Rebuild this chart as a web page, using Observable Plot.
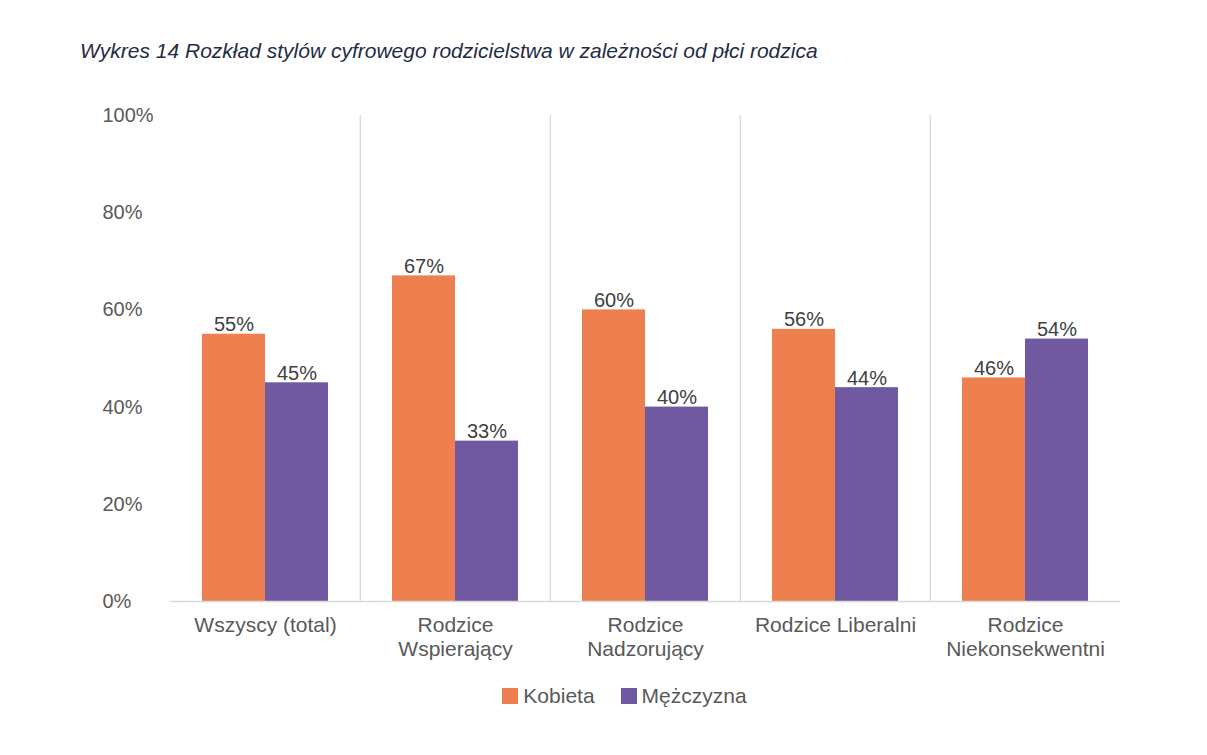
<!DOCTYPE html>
<html>
<head>
<meta charset="utf-8">
<script src="https://cdn.jsdelivr.net/npm/d3@7"></script>
<script src="https://cdn.jsdelivr.net/npm/@observablehq/plot@0.6"></script>
<style>
  html, body { margin: 0; padding: 0; background: #fff; }
  #wrap { position: relative; width: 1207px; height: 755px; font-family: "Liberation Sans", Arial, sans-serif; }
  #title { position: absolute; left: 80px; top: 39px; font-size: 21px; font-style: italic; color: #1f2d47; white-space: nowrap; }
  #chart { position: absolute; left: 0; top: 0; }
  #legend { position: absolute; top: 684px; left: 0; width: 1207px; display: flex; justify-content: center; gap: 26px; font-size: 21px; color: #595959; padding-left: 42px; box-sizing: border-box; }
  .item { display: flex; align-items: center; gap: 5px; }
  .sw { width: 16px; height: 16px; display: inline-block; }
</style>
</head>
<body>
<div id="wrap">
  <div id="title">Wykres 14 Rozkład stylów cyfrowego rodzicielstwa w zależności od płci rodzica</div>
  <div id="chart"></div>
  <div id="legend"></div>
</div>
<script>
const categories = ["Wszyscy (total)", "Rodzice\nWspierający", "Rodzice\nNadzorujący", "Rodzice Liberalni", "Rodzice\nNiekonsekwentni"];
const series = ["Kobieta", "Mężczyzna"];
const kobieta = [55, 67, 60, 56, 46];
const mezczyzna = [45, 33, 40, 44, 54];
const colors = ["#ee8050", "#7159a1"];
const yTicks = [0, 20, 40, 60, 80, 100];

const data = [];
categories.forEach((c, i) => {
  data.push({cat: c, sex: series[0], value: kobieta[i]});
  data.push({cat: c, sex: series[1], value: mezczyzna[i]});
});

const W = 1207, H = 755;
const mL = 169, mR = 86, mT = 115, mB = 154;
const bandW = (W - mL - mR) / categories.length;
const font = "Liberation Sans, Arial, sans-serif";

const chart = Plot.plot({
  width: W,
  height: H,
  marginLeft: mL,
  marginRight: mR,
  marginTop: mT,
  marginBottom: mB,
  style: {fontFamily: font, fontSize: "20px", color: "#595959", background: "transparent"},
  fx: {domain: categories, padding: 0, label: null},
  x: {domain: series, paddingInner: 0, paddingOuter: 0.5, axis: null},
  y: {domain: [0, 100], axis: null},
  color: {domain: series, range: colors},
  marks: [
    Plot.ruleX(categories.slice(1), {fx: d => d, x: null, dx: -bandW / 2, stroke: "#d9d9d9", strokeWidth: 1.3}),
    Plot.barY(data, {fx: "cat", x: "sex", y: "value", fill: "sex"}),
    Plot.ruleY([0], {stroke: "#d9d9d9", strokeWidth: 1.5}),
    Plot.text(data, {fx: "cat", x: "sex", y: "value", text: d => d.value + "%", lineAnchor: "bottom", dy: -3, fill: "#404040", fontSize: 20}),
    Plot.axisFx({anchor: "bottom", tickSize: 0, tickPadding: 13, fontSize: 21, lineHeight: 1.15, fill: "#595959", label: null}),
    Plot.axisY({ticks: yTicks, tickSize: 0, tickPadding: 0, textAnchor: "start", dx: -68, tickFormat: d => d + "%", fontSize: 20, fill: "#595959", label: null, facetAnchor: "left"})
  ]
});
document.getElementById("chart").appendChild(chart);

const legend = document.getElementById("legend");
series.forEach((s, i) => {
  const it = document.createElement("div");
  it.className = "item";
  const sw = document.createElement("span");
  sw.className = "sw";
  sw.style.background = colors[i];
  const t = document.createElement("span");
  t.textContent = s;
  it.appendChild(sw);
  it.appendChild(t);
  legend.appendChild(it);
});
</script>
</body>
</html>
